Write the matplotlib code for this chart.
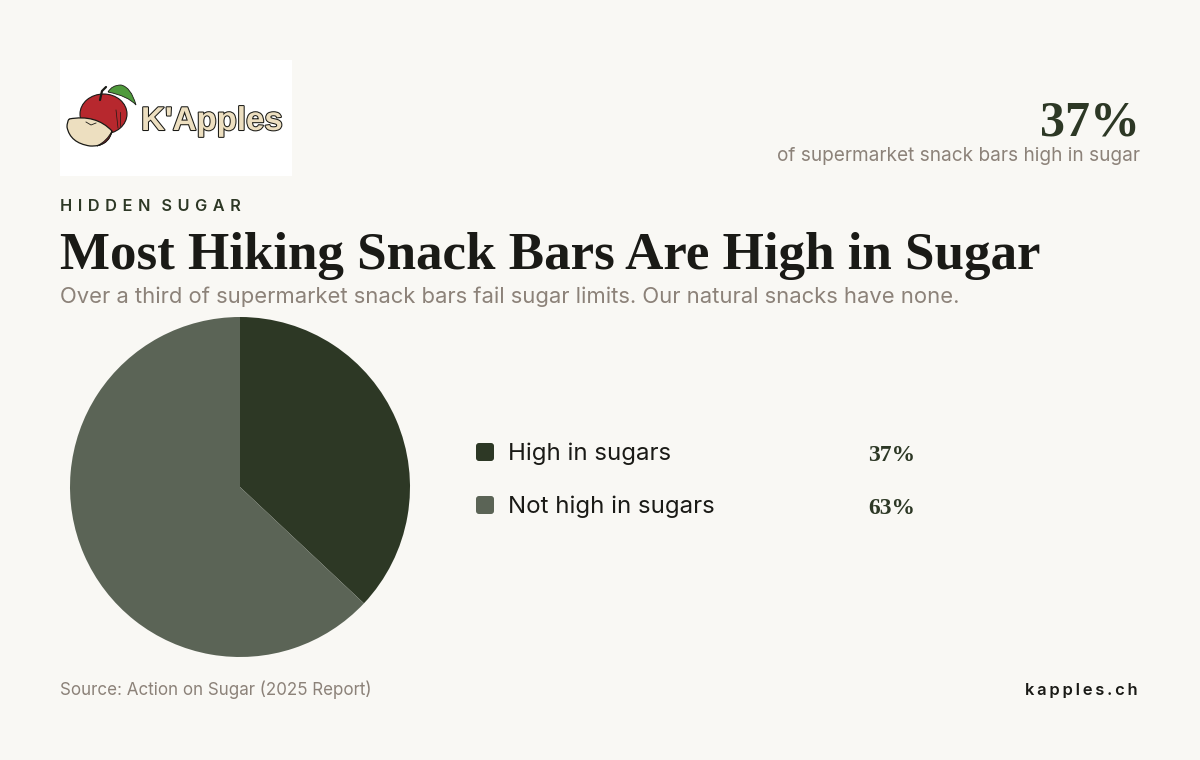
import matplotlib
matplotlib.use("Agg")
import matplotlib.pyplot as plt
from matplotlib.patches import Rectangle, FancyBboxPatch, Ellipse, PathPatch
from matplotlib.path import Path
import matplotlib.patheffects as pe

categories = ["High in sugars", "Not high in sugars"]
values = [37, 63]
value_labels = ["37%", "63%"]
colors = ["#2d3825", "#5b6456"]

BG = "#f9f8f4"
DARK = "#2d3825"
INK = "#1a1a16"
MUTED = "#8c8279"
SANS = ["Inter", "DejaVu Sans"]
SERIF = ["Liberation Serif", "DejaVu Serif"]


def px(n):
    return n * 0.72


def spaced(s, gap):
    return gap.join(s)


fig = plt.figure(figsize=(12, 7.6), dpi=100, facecolor=BG)
page = fig.add_axes([0, 0, 1, 1])
page.set_xlim(0, 1200)
page.set_ylim(760, 0)
page.axis("off")


def text(x, y, s, size, color, family=SANS, weight="normal", ha="left"):
    return page.text(x, y, s, fontsize=px(size), color=color, family=family, weight=weight, ha=ha, va="baseline")


def curve(points, **kw):
    codes = [Path.MOVETO] + [Path.CURVE3] * (len(points) - 1)
    page.add_patch(PathPatch(Path(points, codes), **kw))


# Logo
page.add_patch(Rectangle((60, 60), 232, 116, fc="white", ec="none"))
curve([(108, 92), (112, 85), (121, 85), (131, 87), (136, 105), (128, 96), (108, 92)],
      fc="#4f9a3c", ec="#1a1a16", lw=0.6, zorder=3)
page.add_patch(Ellipse((103.5, 114), 47, 40, fc="#b7282e", ec="#1a1a16", lw=0.8, zorder=2))
page.plot([100, 102, 106], [100, 91, 87], color="#1a1a16", lw=1.6, zorder=4, solid_capstyle="round")
page.plot([116, 118], [110, 128], color="#1a1a16", lw=0.5, zorder=4)
page.plot([120, 120], [112, 126], color="#1a1a16", lw=0.5, zorder=4)
curve([(69, 119), (96, 114), (112, 131), (108, 147), (90, 146), (70, 143), (67, 127), (67, 122), (69, 119)],
      fc="#eddfc0", ec="#1a1a16", lw=0.9, zorder=5)
curve([(112, 131), (110, 143), (97, 146), (107, 141), (112, 131)],
      fc="#6d1f24", ec="#1a1a16", lw=0.6, zorder=6)
page.plot([86, 91, 96], [122, 125, 123], color="#1a1a16", lw=0.6, zorder=6)
logo = page.text(141, 130, "K'Apples", fontsize=px(33), color="#eddfc0", family="Liberation Sans",
                 weight="bold", ha="left", va="baseline")
logo.set_path_effects([pe.withStroke(linewidth=1.5, foreground="#1a1a16")])

# Header
text(1140, 135, "37%", 50, DARK, family=SERIF, weight="bold", ha="right")
text(1140, 161, "of supermarket snack bars high in sugar", 19, MUTED, ha="right")
text(60, 211, "\u2004".join(list("HIDDEN")) + "\u2004\u2004" + "\u2004".join(list("SUGAR")), 16.3, DARK, weight="semibold")
text(60, 269, "Most Hiking Snack Bars Are High in Sugar", 53, INK, family=SERIF, weight="bold")
text(60, 303, "Over a third of supermarket snack bars fail sugar limits. Our natural snacks have none.", 22, MUTED)

# Pie
pie_ax = fig.add_axes([70 / 1200, 1 - 657 / 760, 340 / 1200, 340 / 760])
pie_ax.pie(values, colors=colors, startangle=90, counterclock=False, radius=1.0,
           wedgeprops={"edgecolor": "none"})
pie_ax.set_xlim(-1, 1)
pie_ax.set_ylim(-1, 1)
pie_ax.set_aspect("equal")

# Legend
rows_y = [452, 505]
for y, name, label, color in zip(rows_y, categories, value_labels, colors):
    page.add_patch(FancyBboxPatch((478, y - 7), 14, 14, boxstyle="round,pad=2,rounding_size=3",
                                  fc=color, ec="none"))
    text(508, y + 8, name, 24, INK)
    text(868, y + 9, label, 23.5, DARK, family=SERIF, weight="bold")

# Footer
text(60, 695, "Source: Action on Sugar (2025 Report)", 17, MUTED)
text(1138, 695, spaced("kapples.ch", "\u2009"), 16.5, INK, weight="semibold", ha="right")

fig.savefig("out.png", dpi=100, facecolor=BG)
